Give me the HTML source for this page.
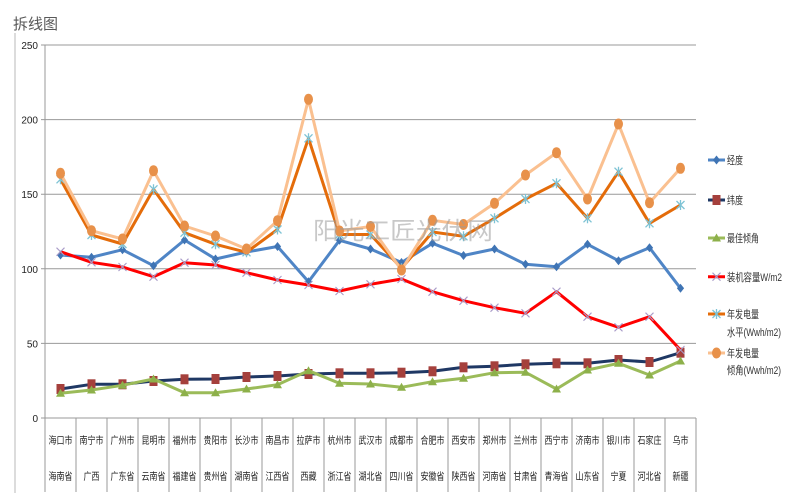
<!DOCTYPE html>
<html><head><meta charset="utf-8"><style>
html,body{margin:0;padding:0;background:#fff;}
svg{display:block;}
text{font-family:"Liberation Sans","Noto Sans CJK SC",sans-serif;}
</style></head><body>
<svg width="800" height="504" viewBox="0 0 800 504" xmlns="http://www.w3.org/2000/svg">
<defs>
<path id="dm" d="M0,-4.5 L3.6,0 L0,4.5 L-3.6,0Z" fill="#3f74b4"/>
<rect id="sq" x="-4" y="-5" width="8" height="10" fill="#a5403c"/>
<path id="tr" d="M0,-4.5 L4.5,3.5 L-4.5,3.5Z" fill="#8db04a"/>
<path id="xm" d="M-4,-4L4,4M-4,4L4,-4" stroke="#a99cc8" stroke-width="1.1" fill="none"/>
<path id="as" d="M-4,-4L4,4M-4,4L4,-4M0,-5V5" stroke="#7ec3d5" stroke-width="1.3" fill="none"/>
<ellipse id="ci" rx="4.5" ry="5.5" fill="#e8914a"/>
</defs>
<rect width="800" height="504" fill="#fff"/>
<text x="13" y="29" font-size="15" fill="#595959">拆线图</text>
<line x1="15" y1="33" x2="15" y2="493" stroke="#dcdcdc" stroke-width="2"/>

<!-- gridlines -->
<g stroke="#999" stroke-width="1">
<line x1="41" y1="45" x2="696" y2="45"/>
<line x1="41" y1="119.6" x2="696" y2="119.6"/>
<line x1="41" y1="194.2" x2="696" y2="194.2"/>
<line x1="41" y1="268.8" x2="696" y2="268.8"/>
<line x1="41" y1="343.4" x2="696" y2="343.4"/>
<line x1="41" y1="418" x2="696" y2="418"/>
<line x1="45" y1="45" x2="45" y2="492"/>
</g>
<g stroke="#9a9a9a" stroke-width="1">
<line x1="76" y1="418" x2="76" y2="492"/><line x1="107" y1="418" x2="107" y2="492"/><line x1="138" y1="418" x2="138" y2="492"/><line x1="169" y1="418" x2="169" y2="492"/><line x1="200" y1="418" x2="200" y2="492"/><line x1="231" y1="418" x2="231" y2="492"/><line x1="262" y1="418" x2="262" y2="492"/><line x1="293" y1="418" x2="293" y2="492"/><line x1="324" y1="418" x2="324" y2="492"/><line x1="355" y1="418" x2="355" y2="492"/><line x1="386" y1="418" x2="386" y2="492"/><line x1="417" y1="418" x2="417" y2="492"/><line x1="448" y1="418" x2="448" y2="492"/><line x1="479" y1="418" x2="479" y2="492"/><line x1="510" y1="418" x2="510" y2="492"/><line x1="541" y1="418" x2="541" y2="492"/><line x1="572" y1="418" x2="572" y2="492"/><line x1="603" y1="418" x2="603" y2="492"/><line x1="634" y1="418" x2="634" y2="492"/><line x1="665" y1="418" x2="665" y2="492"/><line x1="696" y1="418" x2="696" y2="492"/>
</g>

<!-- y labels -->
<g font-size="10" fill="#222" text-anchor="end">
<text x="38" y="49">250</text>
<text x="38" y="123.6">200</text>
<text x="38" y="198.2">150</text>
<text x="38" y="272.8">100</text>
<text x="38" y="347.4">50</text>
<text x="38" y="422">0</text>
</g>

<!-- x labels -->
<g font-size="10" fill="#222" text-anchor="middle" lengthAdjust="spacingAndGlyphs">
<text x="60.5" y="444" textLength="24" lengthAdjust="spacingAndGlyphs">海口市</text>
<text x="91.5" y="444" textLength="24" lengthAdjust="spacingAndGlyphs">南宁市</text>
<text x="122.5" y="444" textLength="24" lengthAdjust="spacingAndGlyphs">广州市</text>
<text x="153.5" y="444" textLength="24" lengthAdjust="spacingAndGlyphs">昆明市</text>
<text x="184.5" y="444" textLength="24" lengthAdjust="spacingAndGlyphs">福州市</text>
<text x="215.5" y="444" textLength="24" lengthAdjust="spacingAndGlyphs">贵阳市</text>
<text x="246.5" y="444" textLength="24" lengthAdjust="spacingAndGlyphs">长沙市</text>
<text x="277.5" y="444" textLength="24" lengthAdjust="spacingAndGlyphs">南昌市</text>
<text x="308.5" y="444" textLength="24" lengthAdjust="spacingAndGlyphs">拉萨市</text>
<text x="339.5" y="444" textLength="24" lengthAdjust="spacingAndGlyphs">杭州市</text>
<text x="370.5" y="444" textLength="24" lengthAdjust="spacingAndGlyphs">武汉市</text>
<text x="401.5" y="444" textLength="24" lengthAdjust="spacingAndGlyphs">成都市</text>
<text x="432.5" y="444" textLength="24" lengthAdjust="spacingAndGlyphs">合肥市</text>
<text x="463.5" y="444" textLength="24" lengthAdjust="spacingAndGlyphs">西安市</text>
<text x="494.5" y="444" textLength="24" lengthAdjust="spacingAndGlyphs">郑州市</text>
<text x="525.5" y="444" textLength="24" lengthAdjust="spacingAndGlyphs">兰州市</text>
<text x="556.5" y="444" textLength="24" lengthAdjust="spacingAndGlyphs">西宁市</text>
<text x="587.5" y="444" textLength="24" lengthAdjust="spacingAndGlyphs">济南市</text>
<text x="618.5" y="444" textLength="24" lengthAdjust="spacingAndGlyphs">银川市</text>
<text x="649.5" y="444" textLength="24" lengthAdjust="spacingAndGlyphs">石家庄</text>
<text x="680.5" y="444" textLength="16" lengthAdjust="spacingAndGlyphs">乌市</text>

<text x="60.5" y="480" textLength="24" lengthAdjust="spacingAndGlyphs">海南省</text>
<text x="91.5" y="480" textLength="16" lengthAdjust="spacingAndGlyphs">广西</text>
<text x="122.5" y="480" textLength="24" lengthAdjust="spacingAndGlyphs">广东省</text>
<text x="153.5" y="480" textLength="24" lengthAdjust="spacingAndGlyphs">云南省</text>
<text x="184.5" y="480" textLength="24" lengthAdjust="spacingAndGlyphs">福建省</text>
<text x="215.5" y="480" textLength="24" lengthAdjust="spacingAndGlyphs">贵州省</text>
<text x="246.5" y="480" textLength="24" lengthAdjust="spacingAndGlyphs">湖南省</text>
<text x="277.5" y="480" textLength="24" lengthAdjust="spacingAndGlyphs">江西省</text>
<text x="308.5" y="480" textLength="16" lengthAdjust="spacingAndGlyphs">西藏</text>
<text x="339.5" y="480" textLength="24" lengthAdjust="spacingAndGlyphs">浙江省</text>
<text x="370.5" y="480" textLength="24" lengthAdjust="spacingAndGlyphs">湖北省</text>
<text x="401.5" y="480" textLength="24" lengthAdjust="spacingAndGlyphs">四川省</text>
<text x="432.5" y="480" textLength="24" lengthAdjust="spacingAndGlyphs">安徽省</text>
<text x="463.5" y="480" textLength="24" lengthAdjust="spacingAndGlyphs">陕西省</text>
<text x="494.5" y="480" textLength="24" lengthAdjust="spacingAndGlyphs">河南省</text>
<text x="525.5" y="480" textLength="24" lengthAdjust="spacingAndGlyphs">甘肃省</text>
<text x="556.5" y="480" textLength="24" lengthAdjust="spacingAndGlyphs">青海省</text>
<text x="587.5" y="480" textLength="24" lengthAdjust="spacingAndGlyphs">山东省</text>
<text x="618.5" y="480" textLength="16" lengthAdjust="spacingAndGlyphs">宁夏</text>
<text x="649.5" y="480" textLength="24" lengthAdjust="spacingAndGlyphs">河北省</text>
<text x="680.5" y="480" textLength="16" lengthAdjust="spacingAndGlyphs">新疆</text>
</g>

<!-- series 1: 经度 -->
<polyline fill="none" stroke="#4f85c6" stroke-width="3" stroke-linejoin="round" points="60.5,255 91.5,257.3 122.5,249.7 153.5,265.7 184.5,240 215.5,259 246.5,252 277.5,246.5 308.5,281.7 339.5,240.3 370.5,249 401.5,262.5 432.5,243.3 463.5,255.5 494.5,249 525.5,264.3 556.5,266.7 587.5,244.3 618.5,260.7 649.5,247.7 680.5,288.3"/>
<g>
<use href="#dm" x="60.5" y="255"/><use href="#dm" x="91.5" y="257.3"/><use href="#dm" x="122.5" y="249.7"/><use href="#dm" x="153.5" y="265.7"/><use href="#dm" x="184.5" y="240"/><use href="#dm" x="215.5" y="259"/><use href="#dm" x="246.5" y="252"/><use href="#dm" x="277.5" y="246.5"/><use href="#dm" x="308.5" y="281.7"/><use href="#dm" x="339.5" y="240.3"/><use href="#dm" x="370.5" y="249"/><use href="#dm" x="401.5" y="262.5"/><use href="#dm" x="432.5" y="243.3"/><use href="#dm" x="463.5" y="255.5"/><use href="#dm" x="494.5" y="249"/><use href="#dm" x="525.5" y="264.3"/><use href="#dm" x="556.5" y="266.7"/><use href="#dm" x="587.5" y="244.3"/><use href="#dm" x="618.5" y="260.7"/><use href="#dm" x="649.5" y="247.7"/><use href="#dm" x="680.5" y="288.3"/>
</g>

<!-- series 2: 纬度 -->
<polyline fill="none" stroke="#1f3864" stroke-width="3" stroke-linejoin="round" points="60.5,389 91.5,384.3 122.5,384.3 153.5,381 184.5,379.3 215.5,379 246.5,377 277.5,376 308.5,374 339.5,373.3 370.5,373.3 401.5,372.7 432.5,371.3 463.5,367.3 494.5,366.3 525.5,364.3 556.5,363.3 587.5,363.3 618.5,360 649.5,362 680.5,352.7"/>
<g>
<use href="#sq" x="60.5" y="389"/><use href="#sq" x="91.5" y="384.3"/><use href="#sq" x="122.5" y="384.3"/><use href="#sq" x="153.5" y="381"/><use href="#sq" x="184.5" y="379.3"/><use href="#sq" x="215.5" y="379"/><use href="#sq" x="246.5" y="377"/><use href="#sq" x="277.5" y="376"/><use href="#sq" x="308.5" y="374"/><use href="#sq" x="339.5" y="373.3"/><use href="#sq" x="370.5" y="373.3"/><use href="#sq" x="401.5" y="372.7"/><use href="#sq" x="432.5" y="371.3"/><use href="#sq" x="463.5" y="367.3"/><use href="#sq" x="494.5" y="366.3"/><use href="#sq" x="525.5" y="364.3"/><use href="#sq" x="556.5" y="363.3"/><use href="#sq" x="587.5" y="363.3"/><use href="#sq" x="618.5" y="360"/><use href="#sq" x="649.5" y="362"/><use href="#sq" x="680.5" y="352.7"/>
</g>

<!-- series 3: 最佳倾角 -->
<polyline fill="none" stroke="#9bbb59" stroke-width="3" stroke-linejoin="round" points="60.5,393.3 91.5,390 122.5,385.3 153.5,379 184.5,392.7 215.5,392.7 246.5,389 277.5,384.7 308.5,370.7 339.5,383.3 370.5,384 401.5,387.3 432.5,381.7 463.5,378.3 494.5,372.7 525.5,372.3 556.5,389 587.5,370 618.5,363.3 649.5,375 680.5,361"/>
<g>
<use href="#tr" x="60.5" y="393.3"/><use href="#tr" x="91.5" y="390"/><use href="#tr" x="122.5" y="385.3"/><use href="#tr" x="153.5" y="379"/><use href="#tr" x="184.5" y="392.7"/><use href="#tr" x="215.5" y="392.7"/><use href="#tr" x="246.5" y="389"/><use href="#tr" x="277.5" y="384.7"/><use href="#tr" x="308.5" y="370.7"/><use href="#tr" x="339.5" y="383.3"/><use href="#tr" x="370.5" y="384"/><use href="#tr" x="401.5" y="387.3"/><use href="#tr" x="432.5" y="381.7"/><use href="#tr" x="463.5" y="378.3"/><use href="#tr" x="494.5" y="372.7"/><use href="#tr" x="525.5" y="372.3"/><use href="#tr" x="556.5" y="389"/><use href="#tr" x="587.5" y="370"/><use href="#tr" x="618.5" y="363.3"/><use href="#tr" x="649.5" y="375"/><use href="#tr" x="680.5" y="361"/>
</g>

<!-- series 4: 装机容量 -->
<polyline fill="none" stroke="#ff0000" stroke-width="3" stroke-linejoin="round" points="60.5,251.7 91.5,262.3 122.5,267 153.5,276.7 184.5,262.7 215.5,265 246.5,272.7 277.5,280 308.5,285 339.5,291 370.5,284.3 401.5,279 432.5,291.7 463.5,300.7 494.5,307.7 525.5,313.3 556.5,291.7 587.5,316.7 618.5,327.3 649.5,316.7 680.5,350"/>
<g>
<use href="#xm" x="60.5" y="251.7"/><use href="#xm" x="91.5" y="262.3"/><use href="#xm" x="122.5" y="267"/><use href="#xm" x="153.5" y="276.7"/><use href="#xm" x="184.5" y="262.7"/><use href="#xm" x="215.5" y="265"/><use href="#xm" x="246.5" y="272.7"/><use href="#xm" x="277.5" y="280"/><use href="#xm" x="308.5" y="285"/><use href="#xm" x="339.5" y="291"/><use href="#xm" x="370.5" y="284.3"/><use href="#xm" x="401.5" y="279"/><use href="#xm" x="432.5" y="291.7"/><use href="#xm" x="463.5" y="300.7"/><use href="#xm" x="494.5" y="307.7"/><use href="#xm" x="525.5" y="313.3"/><use href="#xm" x="556.5" y="291.7"/><use href="#xm" x="587.5" y="316.7"/><use href="#xm" x="618.5" y="327.3"/><use href="#xm" x="649.5" y="316.7"/><use href="#xm" x="680.5" y="350"/>
</g>

<!-- series 5: 年发电量 水平 -->
<polyline fill="none" stroke="#e46c0a" stroke-width="3" stroke-linejoin="round" points="60.5,179.3 91.5,235 122.5,244 153.5,189.3 184.5,232.7 215.5,244.3 246.5,252.3 277.5,229.5 308.5,138.3 339.5,234.5 370.5,234.5 401.5,268.3 432.5,232 463.5,236.3 494.5,218.3 525.5,199 556.5,183.3 587.5,218.3 618.5,171.7 649.5,223.3 680.5,205"/>
<g>
<use href="#as" x="60.5" y="179.3"/><use href="#as" x="91.5" y="235"/><use href="#as" x="122.5" y="244"/><use href="#as" x="153.5" y="189.3"/><use href="#as" x="184.5" y="232.7"/><use href="#as" x="215.5" y="244.3"/><use href="#as" x="246.5" y="252.3"/><use href="#as" x="277.5" y="229.5"/><use href="#as" x="308.5" y="138.3"/><use href="#as" x="339.5" y="234.5"/><use href="#as" x="370.5" y="234.5"/><use href="#as" x="401.5" y="268.3"/><use href="#as" x="432.5" y="232"/><use href="#as" x="463.5" y="236.3"/><use href="#as" x="494.5" y="218.3"/><use href="#as" x="525.5" y="199"/><use href="#as" x="556.5" y="183.3"/><use href="#as" x="587.5" y="218.3"/><use href="#as" x="618.5" y="171.7"/><use href="#as" x="649.5" y="223.3"/><use href="#as" x="680.5" y="205"/>
</g>

<!-- series 6: 年发电量 倾角 -->
<polyline fill="none" stroke="#fac090" stroke-width="3" stroke-linejoin="round" points="60.5,173.3 91.5,230.7 122.5,239 153.5,170.7 184.5,226 215.5,236 246.5,249 277.5,220.7 308.5,99.3 339.5,231 370.5,226.5 401.5,270 432.5,220.3 463.5,224.5 494.5,203.3 525.5,175 556.5,152.7 587.5,199 618.5,124 649.5,202.7 680.5,168.3"/>
<g>
<use href="#ci" x="60.5" y="173.3"/><use href="#ci" x="91.5" y="230.7"/><use href="#ci" x="122.5" y="239"/><use href="#ci" x="153.5" y="170.7"/><use href="#ci" x="184.5" y="226"/><use href="#ci" x="215.5" y="236"/><use href="#ci" x="246.5" y="249"/><use href="#ci" x="277.5" y="220.7"/><use href="#ci" x="308.5" y="99.3"/><use href="#ci" x="339.5" y="231"/><use href="#ci" x="370.5" y="226.5"/><use href="#ci" x="401.5" y="270"/><use href="#ci" x="432.5" y="220.3"/><use href="#ci" x="463.5" y="224.5"/><use href="#ci" x="494.5" y="203.3"/><use href="#ci" x="525.5" y="175"/><use href="#ci" x="556.5" y="152.7"/><use href="#ci" x="587.5" y="199"/><use href="#ci" x="618.5" y="124"/><use href="#ci" x="649.5" y="202.7"/><use href="#ci" x="680.5" y="168.3"/>
</g>

<!-- watermark -->
<text x="313" y="239" font-size="24" fill="#9a9a9a" fill-opacity="0.55" textLength="180" lengthAdjust="spacingAndGlyphs">阳光工匠光伏网</text>

<!-- legend -->
<g>
<line x1="708" y1="160" x2="725" y2="160" stroke="#4f85c6" stroke-width="3"/><use href="#dm" x="716.5" y="160"/>
<line x1="708" y1="200" x2="725" y2="200" stroke="#1f3864" stroke-width="3"/><use href="#sq" x="716.5" y="200"/>
<line x1="708" y1="238" x2="725" y2="238" stroke="#9bbb59" stroke-width="3"/><use href="#tr" x="716.5" y="238"/>
<line x1="708" y1="276.7" x2="725" y2="276.7" stroke="#ff0000" stroke-width="3"/><use href="#xm" x="716.5" y="276.7"/>
<line x1="708" y1="314" x2="725" y2="314" stroke="#e46c0a" stroke-width="3"/><use href="#as" x="716.5" y="314"/>
<line x1="708" y1="353" x2="725" y2="353" stroke="#fac090" stroke-width="3"/><use href="#ci" x="716.5" y="353"/>
</g>
<g font-size="11" fill="#333">
<text x="727" y="164" textLength="16" lengthAdjust="spacingAndGlyphs">经度</text>
<text x="727" y="204" textLength="16" lengthAdjust="spacingAndGlyphs">纬度</text>
<text x="727" y="242" textLength="32" lengthAdjust="spacingAndGlyphs">最佳倾角</text>
<text x="727" y="281" textLength="55" lengthAdjust="spacingAndGlyphs">装机容量W/m2</text>
<text x="727" y="318" textLength="32" lengthAdjust="spacingAndGlyphs">年发电量</text>
<text x="727" y="336" textLength="54" lengthAdjust="spacingAndGlyphs">水平(Wwh/m2)</text>
<text x="727" y="357" textLength="32" lengthAdjust="spacingAndGlyphs">年发电量</text>
<text x="727" y="374" textLength="54" lengthAdjust="spacingAndGlyphs">倾角(Wwh/m2)</text>
</g>
</svg>
</body></html>
